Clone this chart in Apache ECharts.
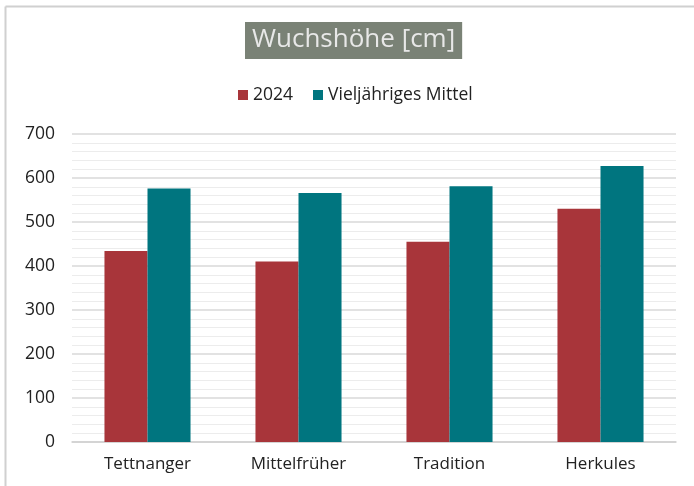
<!DOCTYPE html>
<html>
<head>
<meta charset="utf-8">
<script src="https://cdn.jsdelivr.net/npm/echarts@6/dist/echarts.min.js"></script>
<style>
  html, body { margin: 0; padding: 0; background: #fff; }
  #chart { width: 694px; height: 486px; }
</style>
</head>
<body>
<div id="chart"></div>
<script>
// Wuchshöhe per variety, 2024 vs long-term mean
const sorten = ['Tettnanger', 'Mittelfrüher', 'Tradition', 'Herkules'];
const werte2024 = [434, 410, 455, 530];
const mittel = [576, 566, 581, 627];

const chart = echarts.init(document.getElementById('chart'));
const font = '"Open Sans", Lato, sans-serif';

const option = {
  backgroundColor: '#fff',
  animation: false,
  title: {
    text: 'Wuchshöhe [cm]',
    left: 245,
    top: 22,
    padding: [5, 7, 6, 7],
    backgroundColor: '#7a8276',
    textStyle: {
      color: '#e8e8e8',
      fontFamily: font,
      fontSize: 26,
      fontWeight: 'normal',
    },
  },
  legend: {
    top: 81,
    left: 233,
    itemWidth: 10,
    itemHeight: 10,
    itemGap: 20,
    icon: 'rect',
    textStyle: { color: '#222', fontFamily: font, fontSize: 17.5 },
  },
  grid: { left: 72, right: 18, top: 134, bottom: 44 },
  xAxis: {
    type: 'category',
    data: sorten,
    axisTick: { show: false },
    axisLine: { lineStyle: { color: '#d0d0d0', width: 1.5 } },
    axisLabel: { color: '#222', fontFamily: font, fontSize: 17, margin: 14 },
  },
  yAxis: {
    type: 'value',
    min: 0,
    max: 700,
    interval: 100,
    axisLabel: { color: '#222', fontFamily: font, fontSize: 17.5, margin: 17 },
    splitLine: { lineStyle: { color: '#d9d9d9', width: 1.5 } },
    minorTick: { show: false, splitNumber: 5 },
    minorSplitLine: { show: true, lineStyle: { color: '#ececec', width: 1 } },
  },
  series: [
    {
      name: '2024',
      type: 'bar',
      data: werte2024,
      barGap: '0%',
      barCategoryGap: '43%',
      itemStyle: { color: '#a8353a' },
    },
    {
      name: 'Vieljähriges Mittel',
      type: 'bar',
      data: mittel,
      itemStyle: { color: '#00757f' },
    },
  ],
  graphic: [
    { type: 'line', shape: { x1: 5.5, y1: 6.5, x2: 694, y2: 6.5 }, style: { stroke: '#d0d0d0', lineWidth: 2 } },
    { type: 'line', shape: { x1: 5.5, y1: 6.5, x2: 5.5, y2: 486 }, style: { stroke: '#d0d0d0', lineWidth: 2 } },
  ],
};

chart.setOption(option);
</script>
</body>
</html>
